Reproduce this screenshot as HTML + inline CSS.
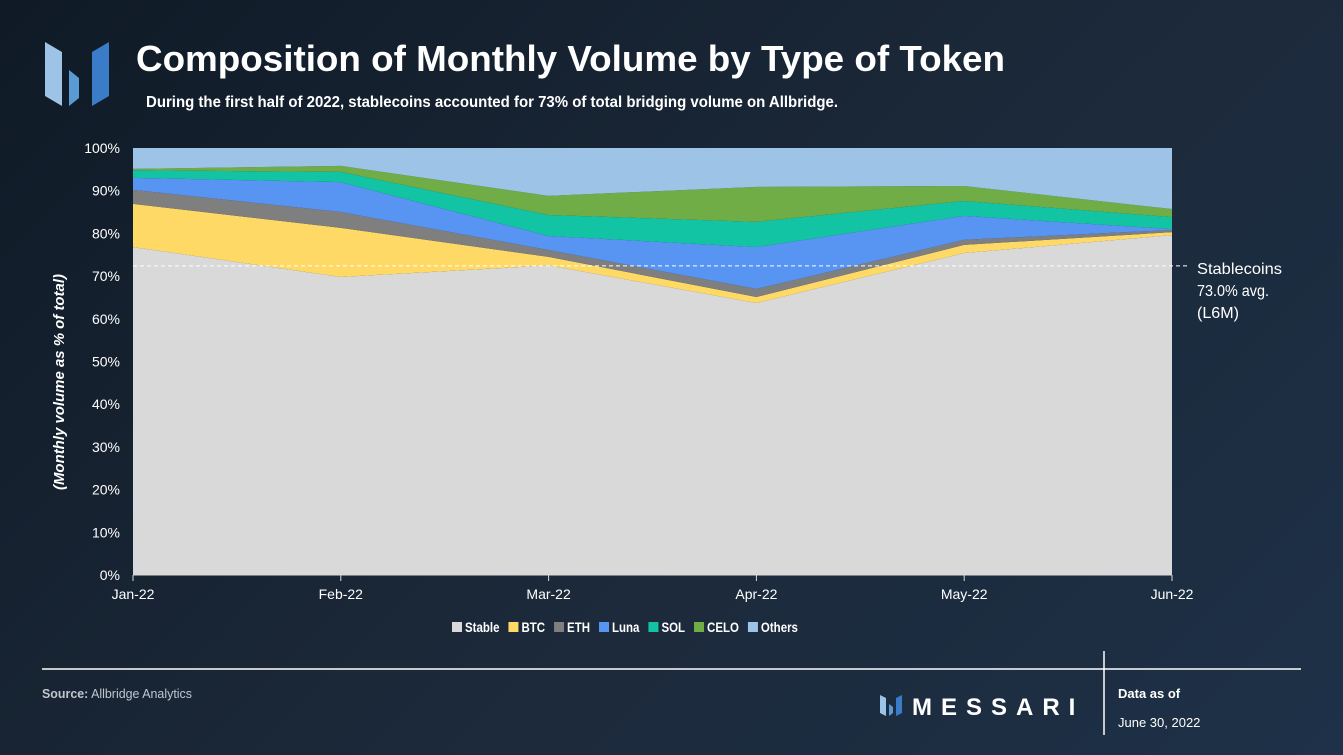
<!DOCTYPE html>
<html><head><meta charset="utf-8"><style>
body{margin:0;width:1343px;height:755px;overflow:hidden;background:linear-gradient(135deg,#0f1a26 0%,#1b2838 50%,#1e3148 100%);font-family:"Liberation Sans",sans-serif;color:#fff}
svg{position:absolute;left:0;top:0}
</style></head><body>
<svg id="c" width="1343" height="755"></svg>
<script>
const months=["Jan-22","Feb-22","Mar-22","Apr-22","May-22","Jun-22"];
const seriesNames=["Stable","BTC","ETH","Luna","SOL","CELO","Others"];
const stable=[76.8,69.8,72.5,63.7,75.4,79.6];
const btc=[10.1,11.5,2.0,1.4,1.9,0.7];
const eth=[3.3,3.7,1.6,1.9,1.2,0.5];
const luna=[2.8,7.0,3.3,9.8,5.6,0.2];
const sol=[1.8,2.4,4.9,5.9,3.5,2.8];
const celo=[0.3,1.4,4.5,8.2,3.5,1.9];
const others=[4.9,4.2,11.2,9.1,8.9,14.3];
const yTicks=[0,10,20,30,40,50,60,70,80,90,100];
const avgStable=72.4;
const colors=["#d9d9d9","#ffd966","#7f7f7f","#5894f2","#12c4a4","#70ad47","#9dc3e6"];
const NS="http://www.w3.org/2000/svg";
const svg=document.getElementById('c');
const x0=133,x1=1172,y0=575,y1=148;
const xs=i=>x0+(x1-x0)*i/(months.length-1);
const ys=v=>y0-(y0-y1)*v/100;
function mk(t,a,p){const e=document.createElementNS(NS,t);for(const k in a)e.setAttribute(k,a[k]);(p||svg).appendChild(e);return e;}
const logo=mk('g',{});


mk('polygon',{points:"45,42 62,52 62,106 45,96",fill:"#9dc3e6"},logo);
mk('polygon',{points:"69,70 79,78 79,98 69,106",fill:"#5b9bd5"},logo);
mk('polygon',{points:"92,52 109,42 109,96 92,106",fill:"#3a7cc8"},logo);
let t=mk('text',{x:136,y:71,fill:"#fff","font-size":36,"font-weight":"bold",textLength:869,lengthAdjust:"spacingAndGlyphs"});t.textContent="Composition of Monthly Volume by Type of Token";

t=mk('text',{x:146,y:107,fill:"#fff","font-size":16,"font-weight":"bold",textLength:692,lengthAdjust:"spacingAndGlyphs"});t.textContent="During the first half of 2022, stablecoins accounted for 73% of total bridging volume on Allbridge.";

const all=[stable,btc,eth,luna,sol,celo,others];
let cum=months.map(()=>0);
all.forEach((s,k)=>{
  const lo=cum.slice();const hi=cum.map((c,i)=>c+s[i]);
  let d="M"+months.map((m,i)=>xs(i)+","+ys(hi[i])).join(" L");
  for(let i=months.length-1;i>=0;i--)d+=" L"+xs(i)+","+ys(lo[i]);
  const p=mk('path',{d:d+"Z",fill:colors[k]});
  
  
  cum=hi;
});
mk('line',{x1:x0,y1:y0,x2:x1,y2:y0,stroke:"#d9d9d9","stroke-width":1});
yTicks.forEach(v=>{const e=mk('text',{x:120,y:ys(v)+5,fill:"#fff","font-size":14,"text-anchor":"end"});e.textContent=v+"%";
});
months.forEach((m,i)=>{mk('line',{x1:xs(i),y1:y0,x2:xs(i),y2:y0+6,stroke:"#d9d9d9"});
const e=mk('text',{x:xs(i),y:599,fill:"#fff","font-size":14,"text-anchor":"middle"});e.textContent=m;
});
t=mk('text',{x:0,y:0,fill:"#fff","font-size":15,"font-style":"italic","font-weight":"bold","text-anchor":"middle",transform:"translate(64,382) rotate(-90)",textLength:216,lengthAdjust:"spacingAndGlyphs"});
t.textContent="(Monthly volume as % of total)";

const al=mk('line',{x1:x0,y1:ys(avgStable),x2:1190,y2:ys(avgStable),stroke:"#fff","stroke-dasharray":"4,3","stroke-width":1});

[["Stablecoins",85],["73.0% avg.",72],["(L6M)",42]].forEach((s,i)=>{const e=mk('text',{x:1197,y:274+i*22,fill:"#fff","font-size":16,textLength:s[1],lengthAdjust:"spacingAndGlyphs"});e.textContent=s[0];
});
let lx=452;
seriesNames.forEach((n,k)=>{const g=mk('g',{});

mk('rect',{x:lx,y:622,width:10,height:10,fill:colors[k]},g);
const e=mk('text',{x:lx+13,y:632,fill:"#fff","font-size":14,"font-weight":"bold"},g);e.textContent=n;
const w=e.getComputedTextLength()*0.82;e.setAttribute('textLength',w);e.setAttribute('lengthAdjust','spacingAndGlyphs');
lx+=13+w+9;});
mk('line',{x1:42,y1:669,x2:1301,y2:669,stroke:"#fff","stroke-width":1.5});
mk('line',{x1:1104,y1:651,x2:1104,y2:735,stroke:"#fff","stroke-width":1.5});
t=mk('text',{x:42,y:698,fill:"#bfc6cf","font-size":13,textLength:150,lengthAdjust:"spacingAndGlyphs"});t.innerHTML='<tspan font-weight="bold">Source:</tspan> Allbridge Analytics';

const fl=mk('g',{});
mk('polygon',{points:"880,695 886,698 886,716 880,713",fill:"#9dc3e6"},fl);
mk('polygon',{points:"889,704 893,707 893,713 889,716",fill:"#5b9bd5"},fl);
mk('polygon',{points:"896,698 902,695 902,713 896,716",fill:"#3a7cc8"},fl);
t=mk('text',{x:912,y:715,fill:"#fff","font-size":24,"font-weight":"bold","letter-spacing":"9"},fl);t.textContent="MESSARI";
t=mk('text',{x:1118,y:698,fill:"#fff","font-size":13,"font-weight":"bold"});t.textContent="Data as of";

t=mk('text',{x:1118,y:727,fill:"#fff","font-size":13});t.textContent="June 30, 2022";

</script>
</body></html>
